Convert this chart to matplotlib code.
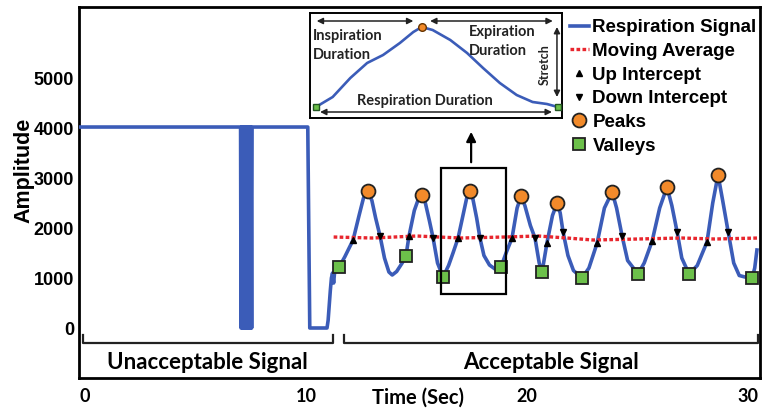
import matplotlib.pyplot as plt
import numpy as np

plt.rcParams['font.family'] = ['Liberation Sans', 'DejaVu Sans']
plt.rcParams['font.weight'] = 'bold'

# ---- data ----
# unacceptable part: flat at ~4000 with a burst and a drop to 0
flat_t = [-0.3, 7.04]
flat_amp = [4020, 4020]
burst_t = [7.06, 7.09, 7.12, 7.15, 7.18, 7.21, 7.24, 7.27, 7.30, 7.33, 7.36,
           7.39, 7.42, 7.45, 7.48, 7.51, 7.54, 7.56]
burst_amp = [0, 4020, 0, 4020, 0, 4020, 0, 4020, 0, 4020, 0,
             4020, 0, 4020, 0, 4020, 0, 4020]
drop_t = [10.08, 10.17, 10.95, 11.0, 11.05, 11.1, 11.15, 11.2, 11.25, 11.3]
drop_amp = [4020, 0, 0, 150, 450, 750, 1000, 1100, 900, 1150]

# acceptable part
acc_t = [11.5, 11.75, 12.13, 12.4, 12.6, 12.8, 12.98, 13.15, 13.35, 13.55, 13.75,
         13.9, 14.1, 14.35, 14.52, 14.66, 14.9, 15.1, 15.25, 15.4, 15.58, 15.75,
         15.95, 16.2, 16.45, 16.65, 16.88, 17.1, 17.28, 17.4, 17.55, 17.72, 17.87,
         18.05, 18.3, 18.55, 18.82, 19.05, 19.32, 19.55, 19.73, 19.9, 20.15, 20.36,
         20.55, 20.68, 20.9, 21.15, 21.36, 21.5, 21.63, 21.85, 22.1, 22.49, 22.8,
         23.17, 23.5, 23.85, 24.05, 24.3, 24.55, 25.02, 25.3, 25.66, 26.0, 26.33,
         26.55, 26.79, 27.0, 27.33, 27.7, 28.14, 28.4, 28.64, 28.85, 29.1, 29.35,
         29.6, 29.86, 30.18, 30.3, 30.4]
acc_amp = [1220, 1420, 1760, 2250, 2600, 2740, 2550, 2200, 1840, 1400, 1120,
           1060, 1130, 1300, 1440, 1840, 2350, 2600, 2660, 2500, 2150, 1800,
           1300, 1020, 1250, 1500, 1800, 2250, 2620, 2740, 2580, 2200, 1800,
           1450, 1260, 1180, 1220, 1500, 1800, 2400, 2640, 2450, 2050, 1800,
           1300, 1120, 1700, 2250, 2500, 2300, 1920, 1450, 1150, 1000, 1200,
           1700, 2400, 2720, 2400, 1840, 1350, 1080, 1300, 1740, 2400, 2820,
           2450, 1920, 1400, 1080, 1250, 1720, 2500, 3060, 2550, 1920, 1300,
           1050, 1020, 1000, 1200, 1560]

ma_t = [11.25, 13.0, 15.0, 17.0, 19.0, 20.5, 21.8, 23.0, 25.0, 27.0, 28.5, 30.5]
ma_amp = [1820, 1800, 1840, 1800, 1820, 1840, 1800, 1760, 1780, 1800, 1780, 1800]

up_t = [12.13, 14.66, 16.88, 19.32, 20.9, 23.17, 25.66, 28.14]
up_amp = [1760, 1840, 1800, 1800, 1700, 1700, 1740, 1720]
down_t = [13.35, 15.75, 17.87, 20.36, 21.63, 24.3, 26.79, 29.1]
down_amp = [1840, 1800, 1800, 1800, 1920, 1840, 1920, 1920]

peak_t = [12.8, 15.25, 17.4, 19.73, 21.36, 23.85, 26.33, 28.64]
peak_amp = [2740, 2660, 2740, 2640, 2500, 2720, 2820, 3060]
valley_t = [11.5, 14.52, 16.2, 18.82, 20.68, 22.49, 25.02, 27.33, 30.18]
valley_amp = [1220, 1440, 1020, 1220, 1120, 1000, 1080, 1080, 1000]

# one breath shown in the zoomed inset (schematic units)
cyc_t = [0.07, 0.27, 0.48, 0.68, 0.87, 1.07, 1.23, 1.33, 1.46, 1.67, 1.87,
         2.06, 2.26, 2.46, 2.65, 2.82, 2.95]
cyc_amp = [0.11, 0.21, 0.40, 0.55, 0.63, 0.75, 0.86, 0.91, 0.88, 0.78, 0.65,
           0.50, 0.35, 0.23, 0.16, 0.14, 0.11]

unacc_span = (-0.1, 11.2)
acc_span = (11.7, 30.45)
box_t = (16.1, 19.05)
box_amp = (680, 3200)

blue = '#3b5cb8'
red = '#e8262e'
orange = '#f28a2a'
green = '#6cc04a'
calibri = ['Lato', 'DejaVu Sans']

fig = plt.figure(figsize=(7.64, 4.09), dpi=100)
ax = fig.add_axes([0.1034, 0.0758, 0.8914, 0.907])

sig_t = flat_t + burst_t + drop_t + acc_t
sig_amp = flat_amp + burst_amp + drop_amp + acc_amp
ax.plot(sig_t, sig_amp, color=blue, lw=2.6, solid_joinstyle='round',
        label='Respiration Signal', zorder=3)
ax.plot(ma_t, ma_amp, color=red, lw=2.4, ls=(0, (1.1, 0.7)),
        label='Moving Average', zorder=4)
ax.plot(up_t, up_amp, '^', color='black', ms=4.5, label='Up Intercept', zorder=5)
ax.plot(down_t, down_amp, 'v', color='black', ms=4.5, label='Down Intercept', zorder=5)
ax.plot(peak_t, peak_amp, 'o', mfc=orange, mec='#222222', mew=1.3, ms=10,
        label='Peaks', zorder=6)
ax.plot(valley_t, valley_amp, 's', mfc=green, mec='#222222', mew=1.3, ms=9,
        label='Valleys', zorder=6)

# highlight box and arrow up to the inset
ax.add_patch(plt.Rectangle((box_t[0], box_amp[0]), box_t[1] - box_t[0],
                           box_amp[1] - box_amp[0], fill=False, ec='black',
                           lw=1.6, zorder=7))
ax.annotate('', xy=(17.47, 3980), xytext=(17.47, 3260),
            arrowprops=dict(arrowstyle='-|>', color='black', lw=1.6,
                            mutation_scale=14))

# brackets under the signal
for (a, b), txt in [(unacc_span, 'Unacceptable Signal'), (acc_span, 'Acceptable Signal')]:
    ax.plot([a, a, b, b], [-140, -300, -300, -140], color='#222222', lw=1.6)
    ax.text((a + b) / 2, -700, txt, ha='center', va='center', fontsize=16,
            family=calibri, fontweight='bold')

ax.set_xlim(-0.27, 30.54)
ax.set_ylim(-1000, 6420)
ax.set_xticks([0, 10, 20, 30])
ax.set_yticks([0, 1000, 2000, 3000, 4000, 5000])
ax.tick_params(length=0, labelsize=13)
ax.tick_params(axis='x', pad=7)
for lab in ax.get_xticklabels():
    lab.set_family(calibri)
ax.set_ylabel('Amplitude', fontsize=15.5, fontweight='bold')
ax.yaxis.set_label_coords(-0.066, 0.56)
ax.set_xlabel('Time (Sec)', fontsize=14.5, family=calibri, fontweight='bold')
ax.xaxis.set_label_coords(0.498, -0.025)
for s in ax.spines.values():
    s.set_linewidth(2)

leg = ax.legend(loc='upper left', bbox_to_anchor=(570 / 764, 1 - 19 / 409),
                bbox_transform=fig.transFigure, frameon=False, fontsize=13.5,
                handlelength=1.0, handletextpad=0.2, labelspacing=0.35,
                borderpad=0, borderaxespad=0)

# inset with one breathing cycle
ins = fig.add_axes([310 / 764, 1 - 118 / 409, 252 / 764, 105 / 409])
ins.plot(cyc_t, cyc_amp, color=blue, lw=1.9, zorder=3)
ins.plot([cyc_t[0], cyc_t[-1]], [cyc_amp[0], cyc_amp[-1]], 's', mfc=green,
         mec='#225522', mew=1, ms=4.5, zorder=4)
ins.plot([cyc_t[7]], [cyc_amp[7]], 'o', mfc=orange, mec='#663300', mew=1, ms=5.5, zorder=4)
ins.set_xlim(0, 3.0)
ins.set_ylim(0, 1.05)
ins.set_xticks([])
ins.set_yticks([])
for s in ins.spines.values():
    s.set_linewidth(1.4)

arrow = dict(arrowstyle='<|-|>', color='#222222', lw=1.1, mutation_scale=9,
             shrinkA=0, shrinkB=0)
ins.annotate('', xy=(0.08, 0.97), xytext=(1.23, 0.97), arrowprops=arrow)
ins.annotate('', xy=(1.43, 0.97), xytext=(2.89, 0.97), arrowprops=arrow)
ins.annotate('', xy=(2.94, 0.91), xytext=(2.94, 0.21), arrowprops=arrow)
ins.annotate('', xy=(0.12, 0.06), xytext=(2.88, 0.06), arrowprops=arrow)
tk = dict(family=calibri, fontweight='bold', fontsize=10.5, color='#222222')
ins.text(0.03, 0.82, 'Inspiration', ha='left', va='center', **tk)
ins.text(0.03, 0.63, 'Duration', ha='left', va='center', **tk)
ins.text(2.29, 0.86, 'Expiration', ha='center', va='center', **tk)
ins.text(2.24, 0.67, 'Duration', ha='center', va='center', **tk)
ins.text(2.80, 0.53, 'Stretch', ha='center', va='center', rotation=90,
         family=calibri, fontweight='bold', fontsize=9, color='#222222')
ins.text(1.37, 0.17, 'Respiration Duration', ha='center', va='center', **tk)

fig.savefig('out.png', dpi=100)
